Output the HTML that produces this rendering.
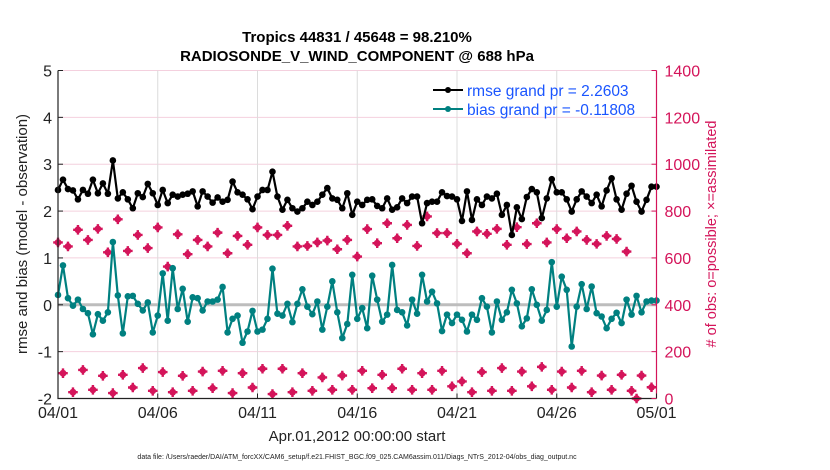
<!DOCTYPE html>
<html><head><meta charset="utf-8">
<style>
html,body{margin:0;padding:0;background:#fff;}
svg{display:block;font-family:"Liberation Sans",Arial,sans-serif;}
</style></head>
<body>
<svg id="chart" width="830" height="470" viewBox="0 0 830 470">
  <text x="357" y="42" text-anchor="middle" font-size="15" font-weight="bold" fill="#000">Tropics 44831 / 45648 = 98.210%</text>
  <text x="357" y="61" text-anchor="middle" font-size="15" font-weight="bold" fill="#000">RADIOSONDE_V_WIND_COMPONENT @ 688 hPa</text>
  <g id="grid"></g>
  <g id="marks"></g>
  <g id="axes"></g>
  <text transform="translate(27,234) rotate(-90)" text-anchor="middle" font-size="15" fill="#222">rmse and bias (model - observation)</text>
  <text transform="translate(716,234) rotate(-90)" text-anchor="middle" font-size="14.5" fill="#d4145a"># of obs: o=possible; ×=assimilated</text>
  <text x="357" y="441" text-anchor="middle" font-size="15" fill="#222">Apr.01,2012 00:00:00 start</text>
  <text x="357" y="459" text-anchor="middle" font-size="7" fill="#222">data file: /Users/raeder/DAI/ATM_forcXX/CAM6_setup/f.e21.FHIST_BGC.f09_025.CAM6assim.011/Diags_NTrS_2012-04/obs_diag_output.nc</text>
  <g>
    <line x1="433" y1="90" x2="463" y2="90" stroke="#000" stroke-width="2"/>
    <circle cx="448" cy="90" r="3" fill="#000"/>
    <text x="467" y="96" font-size="15.5" fill="#1a55ff">rmse grand pr = 2.2603</text>
    <line x1="433" y1="109" x2="463" y2="109" stroke="#008080" stroke-width="2"/>
    <circle cx="448" cy="109" r="3" fill="#008080"/>
    <text x="467" y="115" font-size="15.5" fill="#1a55ff">bias grand pr = -0.11808</text>
  </g>
</svg>
<script>
// time step index i -> days = i*0.25
const rmse = [2.45,2.67,2.47,2.44,2.25,2.45,2.37,2.67,2.38,2.59,2.37,3.08,2.27,2.40,2.25,2.06,2.38,2.30,2.58,2.38,2.13,2.45,2.17,2.35,2.31,2.35,2.37,2.42,2.10,2.42,2.31,2.18,2.29,2.20,2.24,2.63,2.40,2.35,2.25,2.04,2.31,
2.45,2.45,2.84,2.31,2.03,2.24,2.06,1.99,2.06,2.20,2.13,2.20,2.35,2.49,2.27,2.24,2.06,2.38,1.92,2.20,2.13,2.24,2.25,2.11,2.06,2.27,2.03,2.08,2.27,2.17,2.31,2.31,1.74,2.17,2.20,2.20,2.40,2.32,2.31,2.25,1.79,2.42,
1.81,2.25,2.13,2.31,2.27,2.37,1.92,2.13,1.49,2.08,1.83,2.30,2.47,2.40,1.85,2.27,2.68,2.40,2.40,2.25,1.99,2.25,2.42,2.31,2.17,2.35,2.10,2.44,2.70,2.25,2.03,2.37,2.54,2.20,1.99,2.24,2.52,2.52];
const bias = [0.21,0.84,0.14,-0.02,0.11,-0.09,-0.18,-0.63,-0.20,-0.34,-0.16,1.34,0.20,-0.61,0.18,0.19,0.02,-0.12,0.05,-0.59,-0.23,0.67,-0.34,0.78,-0.09,0.34,-0.36,0.16,0.14,-0.12,0.07,0.07,0.11,0.38,-0.59,-0.30,-0.23,-0.81,-0.57,-0.13,-0.57,
-0.53,-0.30,0.77,-0.19,-0.23,0.02,-0.37,0.02,0.33,-0.04,-0.20,0.07,-0.53,-0.04,0.50,-0.16,-0.71,-0.41,0.64,-0.30,-0.07,-0.50,0.62,0.11,-0.36,-0.21,0.85,-0.11,-0.16,-0.44,0.11,-0.19,0.64,0.07,0.28,0.03,-0.56,-0.21,-0.39,-0.21,-0.32,-0.57,
-0.21,-0.32,0.14,-0.04,-0.59,0.07,-0.32,-0.16,0.32,0.03,-0.46,-0.29,0.33,0.00,-0.34,-0.11,0.91,-0.04,0.60,0.32,-0.89,-0.04,0.44,-0.09,0.39,-0.18,-0.25,-0.50,-0.30,-0.17,-0.39,0.11,-0.21,0.19,-0.16,0.07,0.09,0.09];
// obs counts at even steps (i=0,2,...,120)
const obsEven = [666,649,720,677,724,624,765,630,698,642,730,563,701,616,677,649,708,620,694,656,730,
698,698,737,649,651,666,674,637,677,606,723,663,748,684,741,651,777,706,706,660,
620,713,703,724,656,731,659,748,666,723,684,713,677,660,694,681,627,0];
// obs counts at odd steps (i=1,3,...,119)
const obsOdd = [108,27,122,37,97,23,101,47,130,33,113,27,97,33,115,44,118,23,108,47,127,19,127,27,108,33,90,37,98,37,
118,44,101,44,127,37,108,37,118,52,73,27,113,33,130,33,115,52,135,37,115,47,118,27,98,37,101,33,98,48];
const xTicks = [0,5,10,15,20,25,30];
const xTickLabels = ["04/01","04/06","04/11","04/16","04/21","04/26","05/01"];
const yTicksLeft = [-2,-1,0,1,2,3,4,5];
const yTicksRight = [0,200,400,600,800,1000,1200,1400];

const X0=58, X1=656.5, Y0=70.5, Y1=398.5;
const xS = d => X0 + d*(X1-X0)/30;
const yL = v => Y1 - (v+2)*(Y1-Y0)/7;
const yR = c => Y1 - c*(Y1-Y0)/1400;
const NS="http://www.w3.org/2000/svg";
function mk(tag, attrs, parent){const e=document.createElementNS(NS,tag);for(const k in attrs)e.setAttribute(k,attrs[k]);parent.appendChild(e);return e;}
const grid=document.getElementById('grid'), marks=document.getElementById('marks'), axes=document.getElementById('axes');

yTicksRight.forEach(c=>{const l=mk('line',{x1:X0,x2:X1,y1:yR(c),y2:yR(c),stroke:'#f4d0de','stroke-width':1},grid);

});
xTicks.forEach(d=>{const l=mk('line',{x1:xS(d),x2:xS(d),y1:Y0,y2:Y1,stroke:'#dcdcdc','stroke-width':1},grid);

});
const z=mk('line',{x1:X0,x2:X1,y1:yL(0),y2:yL(0),stroke:'#bdbdbd','stroke-width':3},grid);



function obsMarker(x,y){
  const g=mk('g',{},marks);
  
  
  mk('path',{d:`M${x-4.8},${y}H${x+4.8}M${x},${y-4.8}V${y+4.8}`,stroke:'#d4145a','stroke-width':2.4},g);
  mk('circle',{cx:x,cy:y,r:3.4,fill:'#d4145a'},g);
}
obsEven.forEach((c,k)=>obsMarker(xS(k*0.5),yR(c)));
obsOdd.forEach((c,k)=>obsMarker(xS(k*0.5+0.25),yR(c)));

function series(arr,color,name){
  const pts=arr.map((v,i)=>xS(i*0.25).toFixed(1)+','+yL(v).toFixed(1)).join(' ');
  const pl=mk('polyline',{points:pts,fill:'none',stroke:color,'stroke-width':2.2,'stroke-linejoin':'round'},marks);
  
  
  arr.forEach((v,i)=>{const c=mk('circle',{cx:xS(i*0.25),cy:yL(v),r:3.3,fill:color},marks);
    
    });
}
series(bias,'#008080','bias');
series(rmse,'#000000','rmse');

// axes
const la=mk('path',{d:`M${X0},${Y0}V${Y1}H${X1}`,fill:'none',stroke:'#222','stroke-width':1.2},axes);


const ra=mk('line',{x1:X1,x2:X1,y1:Y0,y2:Y1,stroke:'#d4145a','stroke-width':1.2},axes);


yTicksLeft.forEach(v=>{
  mk('line',{x1:X0,x2:X0+5,y1:yL(v),y2:yL(v),stroke:'#222'},axes);
  const t=mk('text',{x:X0-6,y:yL(v)+6,'text-anchor':'end','font-size':16,fill:'#222'},axes);
  t.textContent=v;
  
  
});
yTicksRight.forEach(c=>{
  mk('line',{x1:X1-5,x2:X1,y1:yR(c),y2:yR(c),stroke:'#d4145a'},axes);
  const t=mk('text',{x:X1+8,y:yR(c)+6,'font-size':16,fill:'#d4145a'},axes);
  t.textContent=c;
  
  
});
xTicks.forEach((d,k)=>{
  mk('line',{x1:xS(d),x2:xS(d),y1:Y1,y2:Y1-5,stroke:'#222'},axes);
  const t=mk('text',{x:xS(d),y:418,'text-anchor':'middle','font-size':16,fill:'#222'},axes);
  t.textContent=xTickLabels[k];
  
  
});
</script>
</body></html>
